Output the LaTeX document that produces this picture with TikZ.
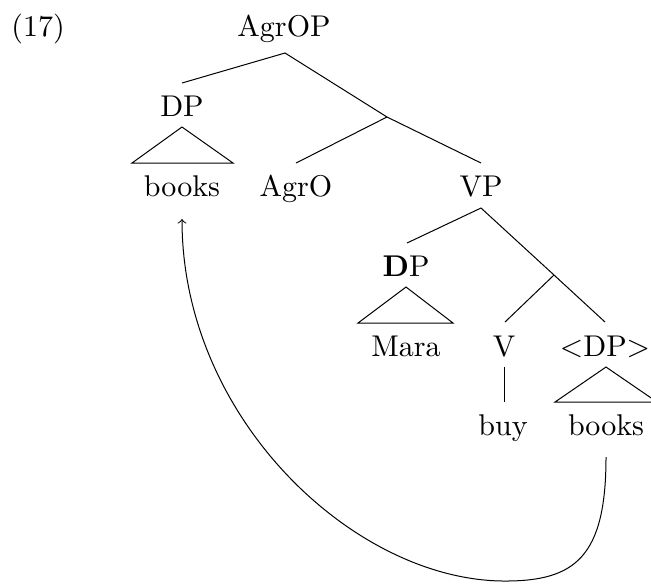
\documentclass[tikz,border=0pt]{standalone}
\begin{document}
\begin{tikzpicture}[x=0.4pt,y=-0.4pt,
  lbl/.style={anchor=base, inner sep=0pt, scale=1.2, font=\fontsize{10}{12}\selectfont},
  branch/.style={line width=0.4pt},
  tri/.style={line width=0.4pt, line join=miter}]
\useasboundingbox (0,0) rectangle (651,583);
% labels
\node[lbl] (ex) at (38,36) {(17)};
\node[lbl] (agrop) at (284,36) {AgrOP};
\node[lbl] (dp1) at (182,116) {DP};
\node[lbl] (books1) at (182,196) {books};
\node[lbl] (agro) at (296,196) {AgrO};
\node[lbl] (vp) at (481,196) {VP};
\node[lbl] (dp2) at (406,276) {\textbf{D}P};
\node[lbl] (mara) at (406,356) {Mara};
\node[lbl] (v) at (504,356) {V};
\node[lbl] (dp3) at (605,356) {<DP>};
\node[lbl] (buy) at (503,435) {buy};
\node[lbl] (books2) at (606,435) {books};
% branch points
\coordinate (agrop-b) at (285,53);
\coordinate (dp1-t) at (182,83);
\coordinate (j1) at (387,117);
\coordinate (agro-t) at (296,163);
\coordinate (vp-t) at (481,163);
\coordinate (vp-b) at (481,208);
\coordinate (dp2-t) at (407,243);
\coordinate (j2) at (554,275);
\coordinate (v-t) at (505,322);
\coordinate (dp3-t) at (605,322);
\coordinate (v-b) at (504,367);
\coordinate (buy-t) at (504,402);
% triangle corners
\coordinate (t1a) at (182,127);
\coordinate (t1l) at (132,163);
\coordinate (t1r) at (233,163);
\coordinate (t2a) at (406,287);
\coordinate (t2l) at (358,323);
\coordinate (t2r) at (453,323);
\coordinate (t3a) at (606,367);
\coordinate (t3l) at (555,402);
\coordinate (t3r) at (657,402);
% movement arrow
\coordinate (m-start) at (606,457);
\coordinate (m-bottom) at (505,581);
\coordinate (m-end) at (182,219);
% branches
\draw[branch] (dp1-t) -- (agrop-b) -- (j1) -- (vp-t);
\draw[branch] (agro-t) -- (j1);
\draw[branch] (dp2-t) -- (vp-b) -- (j2) -- (dp3-t);
\draw[branch] (j2) -- (v-t);
\draw[branch] (v-b) -- (buy-t);
% triangles
\draw[tri] (t1a) -- (t1l) -- (t1r) -- cycle;
\draw[tri] (t2a) -- (t2l) -- (t2r) -- cycle;
\draw[tri] (t3a) -- (t3l) -- (t3r) -- cycle;
% arrow
\draw[branch,->] (m-start) .. controls +(0,100) and +(70,0) .. (m-bottom)
  .. controls +(-150,0) and +(0,200) .. (m-end);
\end{tikzpicture}
\end{document}
